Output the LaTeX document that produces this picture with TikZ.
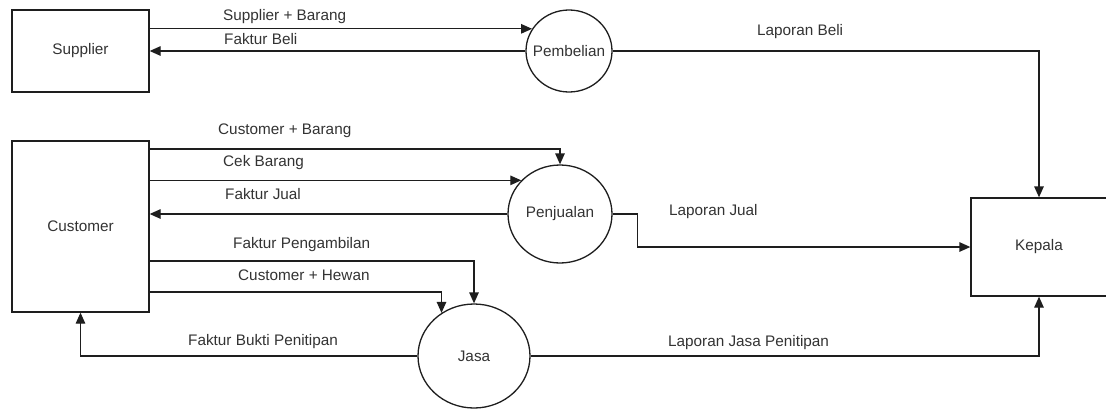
\documentclass[tikz,border=0pt]{standalone}
\usepackage{fontspec}
\setmainfont{Liberation Sans}
\usetikzlibrary{arrows.meta,shapes.geometric}
\definecolor{ln}{HTML}{1E1E1E}
\definecolor{tx}{HTML}{333333}
\begin{document}
\begin{tikzpicture}[x=1pt,y=-1pt,
  font=\fontsize{15.3}{18}\selectfont,
  box/.style={draw=ln,line width=1.3pt,rectangle,inner sep=0pt,text=tx},
  proc/.style={draw=ln,line width=1.3pt,ellipse,inner sep=0pt,label={[text=tx]center:#1}},
  lbl/.style={anchor=west,inner sep=0pt,text=tx,text height=0.72em,text depth=0.21em},
  arr/.style={draw=ln,line width=1.3pt,-{Triangle[length=11pt,width=9.5pt]}}]
\useasboundingbox[fill=white] (0,0) rectangle (1106,410);
% entities
\node[box,minimum width=137,minimum height=82] (sup) at (80.5,51) {Supplier};
\node[box,minimum width=137,minimum height=171] (cust) at (80.5,226.5) {Customer};
\node[box,minimum width=136,minimum height=98] (kep) at (1039,247) {Kepala};
% processes
\node[proc=Pembelian,minimum width=86,minimum height=82] (pemb) at (569,51) {};
\node[proc=Penjualan,minimum width=104,minimum height=98] (penj) at (560,214) {};
\node[proc=Jasa,minimum width=112,minimum height=104] (jasa) at (474,356) {};
% flows
\draw[arr] (sup.east |- pemb.149) -- (pemb.149);
\draw[arr] (pemb.west) -- (sup.east |- pemb.west);
\draw[arr] (pemb.east) -| (kep.north);
\draw[arr] (cust.east |- 0,149) -| (penj.north);
\draw[arr] (cust.east |- penj.139.4) -- (penj.139.4);
\draw[arr] (penj.west) -- (cust.east |- penj.west);
\draw[arr] (penj.east) -- ++(25,0) |- (kep.west);
\draw[arr] (cust.east |- 0,261) -| (jasa.north);
\draw[arr] (cust.east |- 0,292) -| (jasa.127);
\draw[arr] (jasa.west) -| (cust.south);
\draw[arr] (jasa.east) -| (kep.south);
% labels
\node[lbl] (l1) at (223,18) {Supplier + Barang};
\node[lbl] (l2) at (224,42) {Faktur Beli};
\node[lbl] (l3) at (757,33) {Laporan Beli};
\node[lbl] (l4) at (218,132) {Customer + Barang};
\node[lbl] (l5) at (223,164) {Cek Barang};
\node[lbl] (l6) at (225,197) {Faktur Jual};
\node[lbl] (l7) at (669,213) {Laporan Jual};
\node[lbl] (l8) at (233,246) {Faktur Pengambilan};
\node[lbl] (l9) at (238,278) {Customer + Hewan};
\node[lbl] (l10) at (188,343) {Faktur Bukti Penitipan};
\node[lbl] (l11) at (668,344) {Laporan Jasa Penitipan};
\end{tikzpicture}
\end{document}
